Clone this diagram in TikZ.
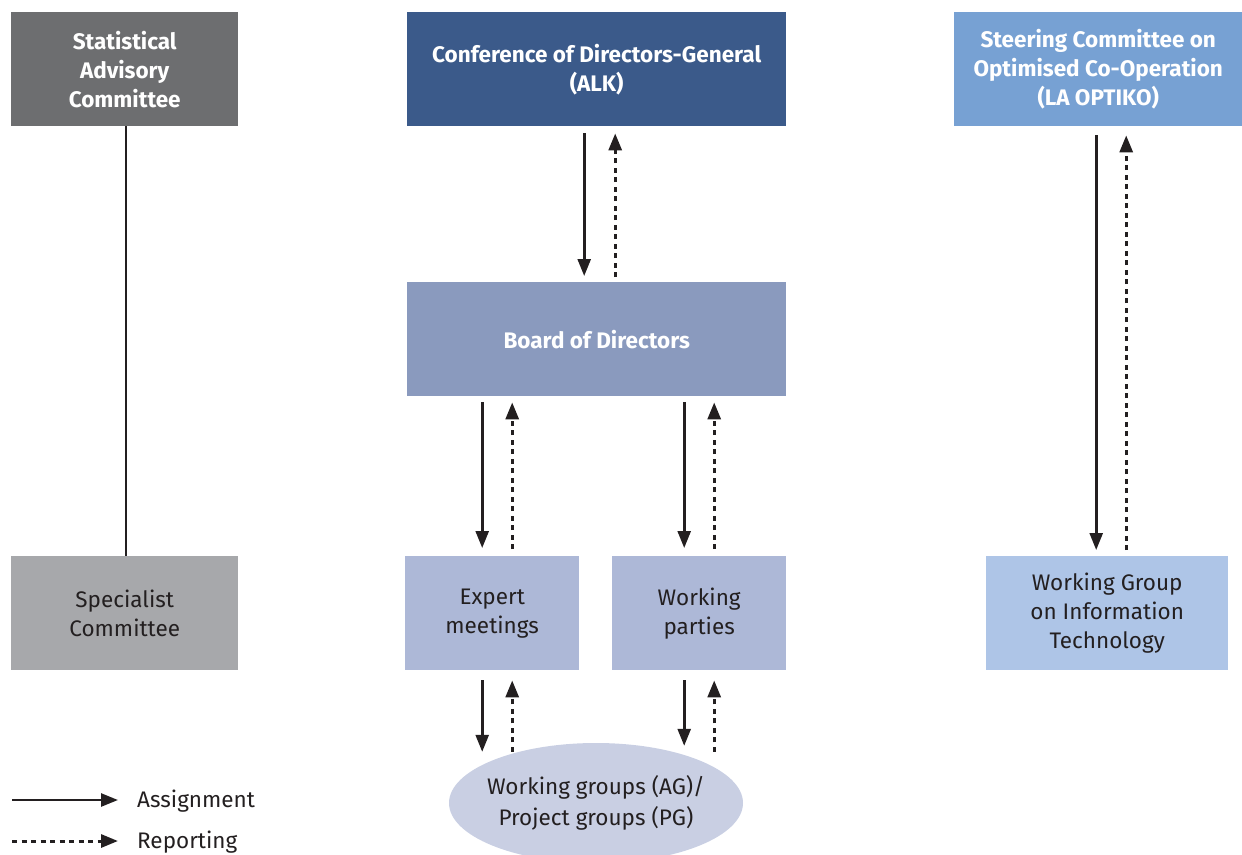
\documentclass[tikz,border=0pt]{standalone}
\usepackage{fontspec}
\setmainfont{Fira Sans}
\usetikzlibrary{arrows.meta,calc,shapes.geometric}
\definecolor{statgray}{HTML}{6D6E70}
\definecolor{confblue}{HTML}{3B5A8A}
\definecolor{steerblue}{HTML}{77A1D3}
\definecolor{boardblue}{HTML}{8A9ABE}
\definecolor{specgray}{HTML}{A7A8AB}
\definecolor{lightblue}{HTML}{ADB8D7}
\definecolor{wgitblue}{HTML}{AEC5E7}
\definecolor{ellblue}{HTML}{C9CFE3}
\definecolor{txt}{HTML}{231F20}
\begin{document}
\begin{tikzpicture}[x=1pt,y=-1pt,
  box/.style={rectangle,inner sep=0pt,anchor=north west,align=center,
    font=\fontsize{22.5}{29}\selectfont},
  darkbox/.style={box,text=white,font=\fontsize{22.5}{29}\selectfont\bfseries},
  lightbox/.style={box,text=txt},
  plain/.style={inner sep=0pt,align=center,text=txt,font=\fontsize{22.5}{29}\selectfont},
  assign/.style={line width=2.6pt,draw=txt,-{Triangle[length=17pt,width=13pt]}},
  report/.style={line width=3pt,draw=txt,dash pattern=on 5pt off 4.5pt,-{Triangle[length=17pt,width=13pt]}}
]
\useasboundingbox (0,0) rectangle (1242,854);
% boxes
\node[darkbox,fill=statgray,minimum width=227pt,minimum height=114pt] (stat) at (11,12) {Statistical\\Advisory\\Committee};
\node[darkbox,fill=confblue,minimum width=379pt,minimum height=114pt] (conf) at (407,12) {Conference of Directors-General\\(ALK)};
\node[darkbox,fill=steerblue,minimum width=288pt,minimum height=114pt] (steer) at (954,12) {Steering Committee on\\Optimised Co-Operation\\(LA OPTIKO)};
\node[darkbox,fill=boardblue,minimum width=379pt,minimum height=114pt] (board) at (407,282) {Board of Directors};
\node[lightbox,fill=specgray,minimum width=227pt,minimum height=114pt] (spec) at (11,556) {Specialist\\Committee};
\node[lightbox,fill=lightblue,minimum width=174pt,minimum height=114pt] (expert) at (405,556) {Expert\\meetings};
\node[lightbox,fill=lightblue,minimum width=174pt,minimum height=114pt] (wparty) at (612,556) {Working\\parties};
\node[lightbox,fill=wgitblue,minimum width=242pt,minimum height=114pt] (wgit) at (986,556) {Working Group\\on Information\\Technology};
\node[ellipse,fill=ellblue,inner sep=0pt,minimum width=294pt,minimum height=120pt] (ell) at (596,803) {};
\node[plain,font=\fontsize{22.5}{30.5}\selectfont] (elltext) at ($(ell.center)+(0,0)$) {Working groups (AG)/\\Project groups (PG)};
% connectors
\draw[line width=2.6pt,draw=txt] (stat.south -| 126,0) -- (spec.north -| 126,0);
\draw[assign] ($(conf.south)+(-12.5,7)$) -- ($(board.north)+(-12.5,-6)$);
\draw[report] ($(board.north)+(18.5,-5)$) -- ($(conf.south)+(18.5,7)$);
\draw[assign] ($(board.south -| expert.north)+(-10,6)$) -- ($(expert.north)+(-10,-8)$);
\draw[report] ($(expert.north)+(20,-7)$) -- ($(board.south -| expert.north)+(20,6)$);
\draw[assign] ($(board.south -| wparty.north)+(-15,6)$) -- ($(wparty.north)+(-15,-8)$);
\draw[report] ($(wparty.north)+(15,-7)$) -- ($(board.south -| wparty.north)+(15,6)$);
\draw[assign] ($(steer.south -| wgit.north)+(-11,9)$) -- ($(wgit.north)+(-11,-6)$);
\draw[report] ($(wgit.north)+(19,-6)$) -- ($(steer.south -| wgit.north)+(19,9)$);
\draw[assign] ($(expert.south)+(-10,10)$) -- ($(expert.south |- ell.north)+(-10,9)$);
\draw[report] ($(expert.south |- ell.north)+(20,9)$) -- ($(expert.south)+(20,10)$);
\draw[assign] ($(wparty.south)+(-15,10)$) -- ($(wparty.south |- ell.north)+(-15,3)$);
\draw[report] ($(wparty.south |- ell.north)+(15,9)$) -- ($(wparty.south)+(15,10)$);
% legend
\coordinate (la) at (12,800);
\coordinate (lb) at (118,800);
\coordinate (ra) at (12,841);
\coordinate (rb) at (118,841);
\draw[assign] (la) -- (lb);
\draw[report] (ra) -- (rb);
\node[plain,anchor=west] (lassign) at (137,801) {Assignment};
\node[plain,anchor=west] (lreport) at (137,842) {Reporting};
\end{tikzpicture}
\end{document}
